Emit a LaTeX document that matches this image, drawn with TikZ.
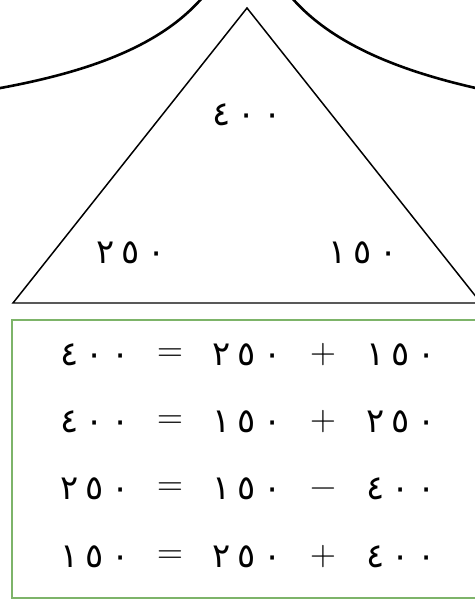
\documentclass[tikz,border=0pt]{standalone}
\usepackage{fontspec}
\newfontfamily\arabicfont[Script=Arabic, LetterSpace=22]{DejaVu Sans}
\usetikzlibrary{positioning, calc}

\definecolor{boxgreen}{RGB}{125,180,105}

\begin{document}
\begin{tikzpicture}[x=1bp, y=-1bp]

% Styles
\tikzset{
  numtext/.style={inner sep=0pt, font=\arabicfont\fontsize{34}{38}\selectfont},
  optext/.style={inner sep=0pt, font=\fontsize{36}{40}\selectfont},
  roofline/.style={line width=2.6pt},
  triline/.style={line width=1.5pt},
}

\useasboundingbox (0,0) rectangle (475,601);

% Roof curves
\draw[roofline] (-5,89) .. controls (90,72) and (165,45) .. (207,-8);
\draw[roofline] (480,89) .. controls (404,72) and (329,45) .. (287,-8);

% Triangle
\coordinate (apex) at (247,8);
\coordinate (bl) at (13,303);
\coordinate (br) at (481,303);
\draw[triline] (bl) -- (apex) -- (br) -- cycle;

\node[numtext] (top)   at (247,115) {٤٠٠};
\node[numtext] (left)  at (131,253) {٢٥٠};
\node[numtext] (right) at (363,253) {١٥٠};

% Equation box
\draw[boxgreen, line width=1.2pt] (12,320) rectangle (480,598);

\node[numtext] (a1) at (95,355) {٤٠٠};
\node[optext] (e1) at (170,355) {=};
\node[numtext] (b1) at (247,355) {٢٥٠};
\node[optext] (o1) at (323,355) {+};
\node[numtext] (c1) at (401,355) {١٥٠};

\node[numtext] (a2) at (95,422) {٤٠٠};
\node[optext] (e2) at (170,422) {=};
\node[numtext] (b2) at (247,422) {١٥٠};
\node[optext] (o2) at (323,422) {+};
\node[numtext] (c2) at (401,422) {٢٥٠};

\node[numtext] (a3) at (95,489) {٢٥٠};
\node[optext] (e3) at (170,489) {=};
\node[numtext] (b3) at (247,489) {١٥٠};
\node[optext] (o3) at (323,489) {\vphantom{+}−};
\node[numtext] (c3) at (401,489) {٤٠٠};

\node[numtext] (a4) at (95,557) {١٥٠};
\node[optext] (e4) at (170,557) {=};
\node[numtext] (b4) at (247,557) {٢٥٠};
\node[optext] (o4) at (323,557) {+};
\node[numtext] (c4) at (401,557) {٤٠٠};

\end{tikzpicture}
\end{document}
